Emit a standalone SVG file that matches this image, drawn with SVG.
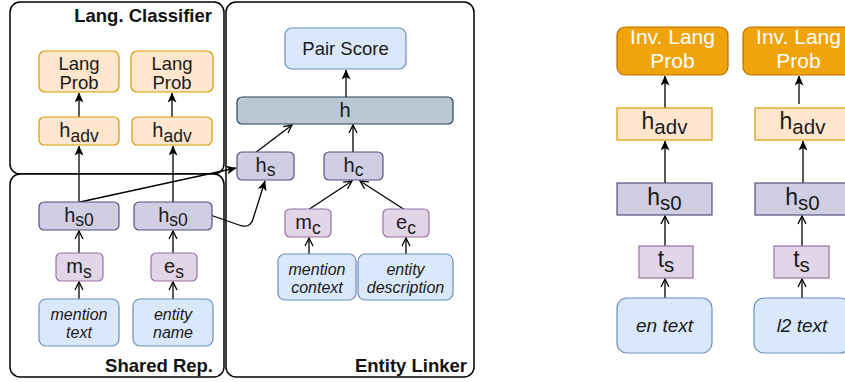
<svg xmlns="http://www.w3.org/2000/svg" width="845" height="382" viewBox="0 0 845 382">
<defs>
<marker id="fill" markerUnits="userSpaceOnUse" viewBox="0 0 10 9" refX="9.5" refY="4.5" markerWidth="10" markerHeight="9" orient="auto">
<path d="M0,0 L10,4.5 L0,9 L2.5,4.5 Z" fill="#000"/>
</marker>
<marker id="open" markerUnits="userSpaceOnUse" viewBox="0 0 10 10" refX="9" refY="5" markerWidth="10" markerHeight="10" orient="auto">
<path d="M1,1 L9,5 L1,9" fill="none" stroke="#000" stroke-width="1.3"/>
</marker>
</defs>
<style>
text{font-family:"Liberation Sans",Arial,Helvetica,sans-serif;fill:#1a1a1a}
.c{text-anchor:middle}
.t{font-size:18.5px}
.it{font-size:16px;font-style:italic}
.itr{font-size:19px;font-style:italic}
.title{font-size:18.5px;font-weight:bold;text-anchor:end;fill:#111}
.h{font-size:20px}
.sub{font-size:17.5px}
.hr{font-size:23px}
.subr{font-size:20.5px}
.cont{fill:#fff;stroke:#000;stroke-width:1.5}
.or{fill:#ffe6cc;stroke:#d79b00;stroke-width:1.2}
.pd{fill:#d0cee2;stroke:#56517e;stroke-width:1.2}
.pl{fill:#e1d5e7;stroke:#9673a6;stroke-width:1.2}
.bl{fill:#dae8fc;stroke:#6c8ebf;stroke-width:1.2}
.gr{fill:#bac8d3;stroke:#23445d;stroke-width:1.2}
.inv{fill:#f0a30a;stroke:#bd7000;stroke-width:1.2}
.w{fill:#fff;font-size:21px}
.a{fill:none;stroke:#000;stroke-width:1.3}
.af{marker-end:url(#fill)}
.ao{marker-end:url(#open)}
</style>

<g id="containers">
<g id="lang-classifier"><rect class="cont" x="10" y="2" width="214" height="172" rx="10"/><text class="title" x="212" y="22">Lang. Classifier</text></g>
<g id="shared-rep"><rect class="cont" x="10" y="174" width="214" height="203" rx="10"/><text class="title" x="213" y="372">Shared Rep.</text></g>
<g id="entity-linker"><rect class="cont" x="226" y="2" width="248" height="375" rx="10"/><text class="title" x="467" y="372">Entity Linker</text></g>
</g>

<g id="connectors">
<line class="a af" x1="79" y1="117" x2="79" y2="93"/>
<line class="a af" x1="172" y1="117" x2="172" y2="93"/>
<line class="a af" x1="79" y1="202" x2="79" y2="146"/>
<line class="a af" x1="173" y1="202" x2="173" y2="146"/>
<line class="a ao" x1="79" y1="253" x2="79" y2="231"/>
<line class="a ao" x1="173" y1="253" x2="173" y2="231"/>
<line class="a ao" x1="79" y1="299" x2="79" y2="282"/>
<line class="a ao" x1="173" y1="299" x2="173" y2="282"/>
<line class="a af" x1="80" y1="202" x2="236" y2="168"/>
<path class="a af" d="M173,202 L239,225 Q250,229 253,219 L265,181"/>
<line class="a af" x1="346" y1="97" x2="346" y2="70"/>
<line class="a ao" x1="255" y1="153" x2="292" y2="125"/>
<line class="a ao" x1="353" y1="153" x2="353" y2="125"/>
<line class="a ao" x1="308" y1="210" x2="352" y2="181"/>
<line class="a ao" x1="405" y1="210" x2="360" y2="181"/>
<line class="a ao" x1="309" y1="254" x2="309" y2="238"/>
<line class="a ao" x1="406" y1="254" x2="406" y2="238"/>
<line class="a af" x1="665" y1="108" x2="665" y2="76"/>
<line class="a af" x1="665" y1="183" x2="665" y2="141"/>
<line class="a ao" x1="665" y1="246" x2="665" y2="216"/>
<line class="a ao" x1="665" y1="298" x2="665" y2="279"/>
<line class="a af" x1="799" y1="104" x2="799" y2="76"/>
<line class="a af" x1="803" y1="183" x2="803" y2="141"/>
<line class="a ao" x1="802" y1="246" x2="802" y2="216"/>
<line class="a ao" x1="802" y1="298" x2="802" y2="279"/>
</g>

<g id="lang-prob-1"><rect class="or" x="39" y="51" width="80" height="41" rx="6"/><text class="t c" x="79" y="70">Lang</text><text class="t c" x="79" y="89">Prob</text></g>
<g id="lang-prob-2"><rect class="or" x="131" y="51" width="82" height="41" rx="6"/><text class="t c" x="172" y="70">Lang</text><text class="t c" x="172" y="89">Prob</text></g>
<g id="hadv-1"><rect class="or" x="39" y="117" width="80" height="28" rx="5"/><text class="c" x="79" y="137"><tspan class="h">h</tspan><tspan class="sub" dy="5">adv</tspan></text></g>
<g id="hadv-2"><rect class="or" x="132" y="117" width="80" height="28" rx="5"/><text class="c" x="172" y="137"><tspan class="h">h</tspan><tspan class="sub" dy="5">adv</tspan></text></g>
<g id="hs0-1"><rect class="pd" x="39" y="202" width="80" height="28" rx="5"/><text class="c" x="79" y="222"><tspan class="h">h</tspan><tspan class="sub" dy="4">s0</tspan></text></g>
<g id="hs0-2"><rect class="pd" x="134" y="202" width="78" height="28" rx="5"/><text class="c" x="173" y="222"><tspan class="h">h</tspan><tspan class="sub" dy="4">s0</tspan></text></g>
<g id="ms"><rect class="pl" x="56" y="253" width="47" height="28" rx="5"/><text class="c" x="79" y="273"><tspan class="h">m</tspan><tspan class="sub" dy="5">s</tspan></text></g>
<g id="es"><rect class="pl" x="151" y="253" width="46" height="28" rx="5"/><text class="c" x="174" y="273"><tspan class="h">e</tspan><tspan class="sub" dy="5">s</tspan></text></g>
<g id="mention-text"><rect class="bl" x="39" y="299" width="80" height="47" rx="7"/><text class="it c" x="79" y="320">mention</text><text class="it c" x="79" y="338">text</text></g>
<g id="entity-name"><rect class="bl" x="133" y="299" width="80" height="47" rx="7"/><text class="it c" x="173" y="320">entity</text><text class="it c" x="173" y="338">name</text></g>

<g id="pair-score"><rect class="bl" x="285" y="28" width="121" height="41" rx="7"/><text class="t c" x="345.5" y="55">Pair Score</text></g>
<g id="h"><rect class="gr" x="237" y="97" width="216" height="27" rx="5"/><text class="h c" x="345" y="117">h</text></g>
<g id="hs"><rect class="pd" x="237" y="152" width="57" height="28" rx="5"/><text class="c" x="265.5" y="172"><tspan class="h">h</tspan><tspan class="sub" dy="4">s</tspan></text></g>
<g id="hc"><rect class="pd" x="324" y="152" width="59" height="28" rx="5"/><text class="c" x="353.5" y="172"><tspan class="h">h</tspan><tspan class="sub" dy="4">c</tspan></text></g>
<g id="mc"><rect class="pl" x="285" y="209" width="46" height="28" rx="5"/><text class="c" x="308" y="229"><tspan class="h">m</tspan><tspan class="sub" dy="5">c</tspan></text></g>
<g id="ec"><rect class="pl" x="383" y="209" width="46" height="28" rx="5"/><text class="c" x="406" y="229"><tspan class="h">e</tspan><tspan class="sub" dy="5">c</tspan></text></g>
<g id="mention-context"><rect class="bl" x="278" y="254" width="78" height="46" rx="7"/><text class="it c" x="317" y="275">mention</text><text class="it c" x="317" y="293">context</text></g>
<g id="entity-description"><rect class="bl" x="358" y="254" width="95" height="46" rx="7"/><text class="it c" x="405.5" y="275">entity</text><text class="it c" x="405.5" y="293">description</text></g>

<g id="inv-1"><rect class="inv" x="617" y="27" width="111" height="48" rx="8"/><text class="w c" x="672.5" y="44">Inv. Lang</text><text class="w c" x="672.5" y="68">Prob</text></g>
<g id="inv-2"><rect class="inv" x="743" y="27" width="111" height="48" rx="8"/><text class="w c" x="798.5" y="44">Inv. Lang</text><text class="w c" x="798.5" y="68">Prob</text></g>
<g id="hadv-r1"><rect class="or" x="617" y="108" width="95" height="32"/><text class="c" x="664.5" y="129"><tspan class="hr">h</tspan><tspan class="subr" dy="5">adv</tspan></text></g>
<g id="hadv-r2"><rect class="or" x="755" y="108" width="95" height="32"/><text class="c" x="802.5" y="129"><tspan class="hr">h</tspan><tspan class="subr" dy="5">adv</tspan></text></g>
<g id="hs0-r1"><rect class="pd" x="617" y="183" width="95" height="32"/><text class="c" x="664.5" y="205"><tspan class="hr">h</tspan><tspan class="subr" dy="5">s0</tspan></text></g>
<g id="hs0-r2"><rect class="pd" x="755" y="183" width="95" height="32"/><text class="c" x="802.5" y="205"><tspan class="hr">h</tspan><tspan class="subr" dy="5">s0</tspan></text></g>
<g id="ts-1"><rect class="pl" x="639" y="246" width="54" height="32"/><text class="c" x="666" y="267"><tspan class="hr">t</tspan><tspan class="subr" dy="5">s</tspan></text></g>
<g id="ts-2"><rect class="pl" x="774" y="246" width="55" height="32"/><text class="c" x="801.5" y="267"><tspan class="hr">t</tspan><tspan class="subr" dy="5">s</tspan></text></g>
<g id="en-text"><rect class="bl" x="617" y="298" width="95" height="55" rx="10"/><text class="itr c" x="664.5" y="332">en text</text></g>
<g id="l2-text"><rect class="bl" x="754" y="298" width="96" height="55" rx="10"/><text class="itr c" x="802" y="332">l2 text</text></g>
</svg>
